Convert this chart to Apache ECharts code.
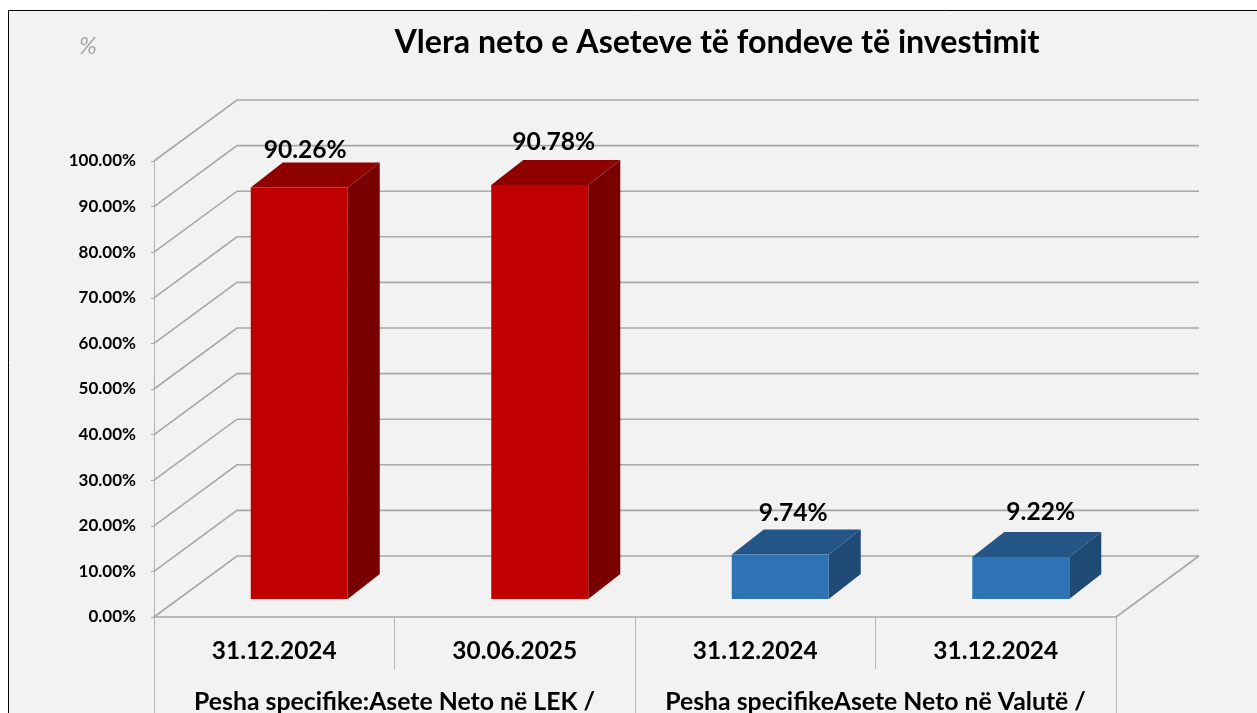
<!DOCTYPE html>
<html><head><meta charset="utf-8">
<style>html,body{margin:0;padding:0;background:#fff;overflow:hidden}#c{width:1257px;height:713px}</style>
<script src="https://cdn.jsdelivr.net/npm/echarts@6/dist/echarts.min.js"></script>
</head><body><div id="c"></div>
<script>
const titleText = 'Vlera neto e Aseteve të fondeve të investimit';
const unitText = '%';
const dates = ['31.12.2024', '30.06.2025', '31.12.2024', '31.12.2024'];
const groups = ['Pesha specifike:Asete Neto në LEK /', 'Pesha specifikeAsete Neto në Valutë /'];
const values = [90.26, 90.78, 9.74, 9.22];
const gridTicks = [0, 10, 20, 30, 40, 50, 60, 70, 80, 90, 100];

// styling
const FONT = 'Lato, Carlito, Calibri, sans-serif';
const WALL = { dx: 83, dy: -61 };
const BAR = { dx: 32, dy: -25, offX: 25, offY: -18, width: 97 };
const RED = { front: '#c00000', top: '#8e0000', side: '#780000' };
const BLUE = { front: '#2e74b5', top: '#235687', side: '#1e4a75' };
const palette = [RED, RED, BLUE, BLUE];
const labelNudge = [[6, -37], [14, -43], [13, -42], [20, -45]];
const lineColor = '#a8a8a8';

function renderWalls(params, api) {
  const v = api.value(0);
  const p = api.coord([0, v]);
  const left = params.coordSys.x, right = left + params.coordSys.width;
  const ls = { stroke: lineColor, lineWidth: 1.6, fill: null };
  const children = [
    { type: 'polyline', shape: { points: [[left, p[1]], [left + WALL.dx, p[1] + WALL.dy], [right + WALL.dx, p[1] + WALL.dy]] }, style: ls }
  ];
  if (v === 0) children.push({ type: 'line', shape: { x1: right, y1: p[1], x2: right + WALL.dx, y2: p[1] + WALL.dy }, style: ls });
  return { type: 'group', children };
}

function renderBar(params, api) {
  const i = api.value(0), v = api.value(1);
  const top = api.coord([i, v]), base = api.coord([i, 0]);
  const c = palette[i], n = labelNudge[i];
  const x0 = top[0] + BAR.offX - BAR.width / 2, x1 = x0 + BAR.width;
  const yT = top[1] + BAR.offY, yB = base[1] + BAR.offY;
  const d = BAR;
  return { type: 'group', children: [
    { type: 'polygon', shape: { points: [[x0, yT], [x1, yT], [x1 + d.dx, yT + d.dy], [x0 + d.dx, yT + d.dy]] }, style: { fill: c.top } },
    { type: 'polygon', shape: { points: [[x1, yT], [x1 + d.dx, yT + d.dy], [x1 + d.dx, yB + d.dy], [x1, yB]] }, style: { fill: c.side } },
    { type: 'rect', shape: { x: x0, y: yT, width: BAR.width, height: yB - yT }, style: { fill: c.front } },
    { type: 'text', x: (x0 + x1) / 2 + n[0], y: yT + n[1], style: { text: v.toFixed(2) + '%', fill: '#000', font: '700 24.6px ' + FONT, align: 'center', verticalAlign: 'middle' } }
  ] };
}

const chart = echarts.init(document.getElementById('c'), null, { renderer: 'canvas' });
chart.setOption({
  animation: false,
  backgroundColor: '#fff',
  graphic: [{ type: 'rect', z: -10, silent: true, shape: { x: 8.5, y: 10.5, width: 1400, height: 900 }, style: { fill: '#f2f2f2', stroke: '#000', lineWidth: 1 } }],
  title: [
    { text: titleText, left: 712, top: 22, textAlign: 'center', textStyle: { fontFamily: FONT, fontWeight: 700, fontSize: 32.2, color: '#000' } },
    { text: unitText, left: 74, top: 29, textStyle: { fontFamily: FONT, fontStyle: 'italic', fontWeight: 400, fontSize: 24, color: '#a6a6a6' } }
  ],
  grid: { left: 154, top: 161, width: 962, height: 456, containLabel: false, outerBoundsMode: 'none' },
  xAxis: [
    { type: 'category', data: dates, position: 'bottom',
      axisLine: { show: true, lineStyle: { color: lineColor, width: 1.6 } },
      axisTick: { show: true, alignWithLabel: false, length: 52, lineStyle: { color: '#b4b4b4', width: 1 } },
      axisLabel: { margin: 22, interval: 0, color: '#000', fontFamily: FONT, fontWeight: 700, fontSize: 24.4 } },
    { type: 'category', data: groups, position: 'bottom',
      axisLine: { show: false },
      axisTick: { show: true, length: 100, lineStyle: { color: '#b4b4b4', width: 1 } },
      axisLabel: { margin: 73, interval: 0, color: '#000', fontFamily: FONT, fontWeight: 700, fontSize: 24.8 } }
  ],
  yAxis: { type: 'value', min: 0, max: 100, interval: 10,
    axisLine: { show: true, lineStyle: { color: '#b4b4b4', width: 1 } },
    axisTick: { show: true, length: 3, lineStyle: { color: lineColor } },
    splitLine: { show: false },
    axisLabel: { margin: 18, color: '#000', fontFamily: FONT, fontWeight: 700, fontSize: 17, formatter: v => v.toFixed(2) + '%' } },
  series: [
    { type: 'custom', silent: true, coordinateSystem: 'cartesian2d', xAxisIndex: 0, z: 1, data: gridTicks.map(v => [v]), encode: { y: 0 }, renderItem: renderWalls, clip: false },
    { type: 'custom', silent: true, coordinateSystem: 'cartesian2d', xAxisIndex: 0, z: 3, data: values.map((v, i) => [i, v]), encode: { x: 0, y: 1 }, renderItem: renderBar, clip: false }
  ]
});
</script></body></html>
